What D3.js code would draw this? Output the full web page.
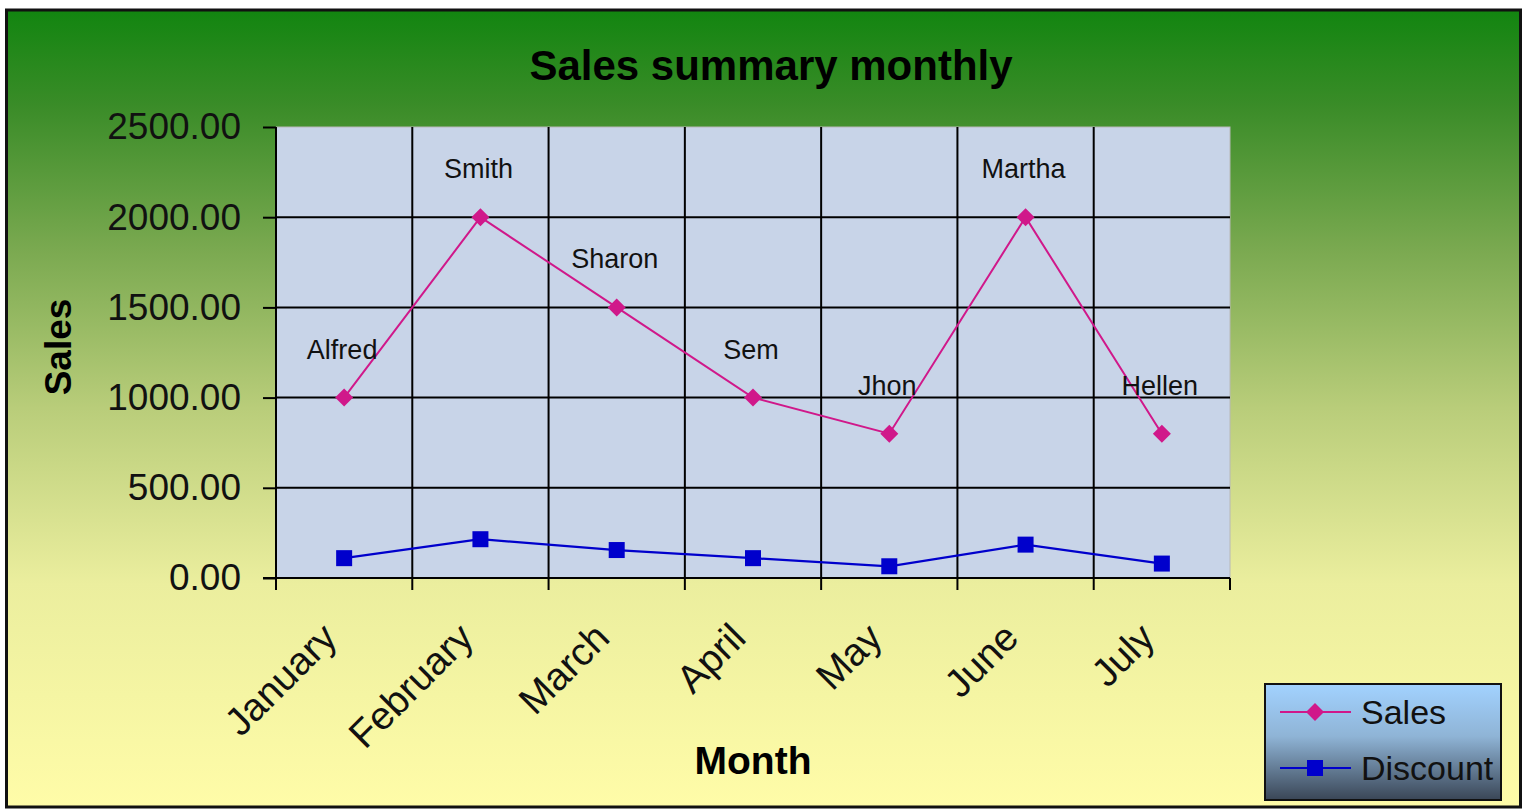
<!DOCTYPE html>
<html>
<head>
<meta charset="utf-8">
<script src="https://cdn.jsdelivr.net/npm/d3@7"></script>
<style>
  html, body { margin: 0; padding: 0; background: #ffffff; }
  svg { display: block; }
  text { font-family: Arial, "Liberation Sans", sans-serif; }
</style>
</head>
<body>
<svg id="chart" width="1526" height="810"></svg>
<script>
// Monthly sales summary data
const months = ["January", "February", "March", "April", "May", "June", "July"];
const salesValues = [1000, 2000, 1500, 1000, 800, 2000, 800];
const discountValues = [110, 215, 155, 110, 65, 185, 80];
const salesPeople = ["Alfred", "Smith", "Sharon", "Sem", "Jhon", "Martha", "Hellen"];
const yTicks = [0, 500, 1000, 1500, 2000, 2500];
const seriesNames = ["Sales", "Discount"];

const svg = d3.select("#chart");
const defs = svg.append("defs");

// Background gradient: green at top fading to pale yellow
const bg = defs.append("linearGradient").attr("id", "bgGrad")
  .attr("x1", 0).attr("y1", 0).attr("x2", 0).attr("y2", 1);
[[0, "#128510"], [0.12, "#3a8c28"], [0.3, "#7aa950"], [0.5, "#b9cd7a"],
 [0.72, "#ebee9e"], [1, "#fffca8"]].forEach(([o, c]) =>
  bg.append("stop").attr("offset", o).attr("stop-color", c));

// Legend gradient: light blue to dark slate
const lg = defs.append("linearGradient").attr("id", "legGrad")
  .attr("x1", 0).attr("y1", 0).attr("x2", 0).attr("y2", 1);
[[0, "#a2d2ff"], [0.45, "#8fb4d6"], [1, "#3a4656"]].forEach(([o, c]) =>
  lg.append("stop").attr("offset", o).attr("stop-color", c));

svg.append("rect")
  .attr("x", 6.5).attr("y", 10).attr("width", 1514).attr("height", 797)
  .attr("fill", "url(#bgGrad)").attr("stroke", "#111").attr("stroke-width", 3);

// Plot area
const plot = { left: 276, right: 1230, top: 127, bottom: 578 };

const x = d3.scaleBand().domain(months).range([plot.left, plot.right]).padding(0);
const y = d3.scaleLinear().domain([0, 2500]).range([plot.bottom, plot.top]);
const cx = m => x(m) + x.bandwidth() / 2;

svg.append("rect")
  .attr("x", plot.left).attr("y", plot.top)
  .attr("width", plot.right - plot.left).attr("height", plot.bottom - plot.top)
  .attr("fill", "#c8d4e8").attr("stroke", "#b8b8b8").attr("stroke-width", 1);

// Horizontal gridlines
svg.append("g").selectAll("line")
  .data(yTicks.filter(t => t > 0 && t < 2500))
  .join("line")
  .attr("x1", plot.left).attr("x2", plot.right)
  .attr("y1", d => y(d)).attr("y2", d => y(d))
  .attr("stroke", "#000").attr("stroke-width", 2);

// Vertical gridlines at category boundaries
svg.append("g").selectAll("line")
  .data(months.slice(1))
  .join("line")
  .attr("x1", d => x(d)).attr("x2", d => x(d))
  .attr("y1", plot.top).attr("y2", plot.bottom)
  .attr("stroke", "#000").attr("stroke-width", 2);

// Y axis
const yAxis = svg.append("g")
  .attr("transform", `translate(${plot.left},0)`)
  .call(d3.axisLeft(y).tickValues(yTicks).tickSize(13).tickPadding(22)
    .tickFormat(d3.format(".2f")));
yAxis.select(".domain").attr("stroke", "#000").attr("stroke-width", 2)
  .attr("d", `M0,${plot.top}V${plot.bottom + 12}`);
yAxis.selectAll(".tick line").attr("stroke", "#000").attr("stroke-width", 2);
yAxis.selectAll(".tick text")
  .attr("font-size", 37).attr("fill", "#111")
  .attr("font-family", "Arial, 'Liberation Sans', sans-serif");

// X axis with ticks at category boundaries
const boundaries = months.map(m => x(m)).concat([plot.right]);
const xAxisG = svg.append("g");
xAxisG.append("line")
  .attr("x1", plot.left - 13).attr("x2", plot.right)
  .attr("y1", plot.bottom).attr("y2", plot.bottom)
  .attr("stroke", "#000").attr("stroke-width", 2);
xAxisG.selectAll("line.tick")
  .data(boundaries)
  .join("line").attr("class", "tick")
  .attr("x1", d => d).attr("x2", d => d)
  .attr("y1", plot.bottom).attr("y2", plot.bottom + 12)
  .attr("stroke", "#000").attr("stroke-width", 2);
xAxisG.selectAll("text")
  .data(months)
  .join("text")
  .attr("transform", d => `translate(${cx(d) - 5},${plot.bottom + 62}) rotate(-45)`)
  .attr("text-anchor", "end")
  .attr("font-size", 39).attr("fill", "#111")
  .text(d => d);

// Series lines
const line = d3.line().x((d, i) => cx(months[i])).y(d => y(d));

svg.append("path").datum(discountValues)
  .attr("d", line).attr("fill", "none")
  .attr("stroke", "#0000cc").attr("stroke-width", 2.2);

svg.append("path").datum(salesValues)
  .attr("d", line).attr("fill", "none")
  .attr("stroke", "#d0188a").attr("stroke-width", 2);

// Markers
const diamondPath = "M0,-9L9,0L0,9L-9,0Z";
svg.append("g").selectAll("path")
  .data(salesValues)
  .join("path")
  .attr("d", diamondPath)
  .attr("transform", (d, i) => `translate(${cx(months[i])},${y(d)})`)
  .attr("fill", "#d0188a");

svg.append("g").selectAll("rect")
  .data(discountValues)
  .join("rect")
  .attr("x", (d, i) => cx(months[i]) - 8).attr("y", d => y(d) - 8)
  .attr("width", 16).attr("height", 16)
  .attr("fill", "#0000cc");

// Salesperson labels above sales points
svg.append("g").selectAll("text")
  .data(salesValues)
  .join("text")
  .attr("x", (d, i) => cx(months[i]) - 2)
  .attr("y", d => y(d) - 39)
  .attr("text-anchor", "middle")
  .attr("font-size", 27).attr("fill", "#111")
  .text((d, i) => salesPeople[i]);

// Titles
svg.append("text")
  .attr("x", 771).attr("y", 80)
  .attr("text-anchor", "middle")
  .attr("font-size", 42).attr("font-weight", "bold").attr("fill", "#000")
  .text("Sales summary monthly");

svg.append("text")
  .attr("x", 753).attr("y", 774)
  .attr("text-anchor", "middle")
  .attr("font-size", 39).attr("font-weight", "bold").attr("fill", "#000")
  .text("Month");

svg.append("text")
  .attr("transform", "translate(71,347) rotate(-90)")
  .attr("text-anchor", "middle")
  .attr("font-size", 37).attr("font-weight", "bold").attr("fill", "#000")
  .text("Sales");

// Legend
const legend = svg.append("g");
legend.append("rect")
  .attr("x", 1265).attr("y", 684).attr("width", 236).attr("height", 116)
  .attr("fill", "url(#legGrad)").attr("stroke", "#111").attr("stroke-width", 2);

const legendColors = ["#d0188a", "#0000cc"];
const legendY = d3.scalePoint().domain(seriesNames).range([712, 768]);
seriesNames.forEach((name, i) => {
  const ly = legendY(name);
  legend.append("line")
    .attr("x1", 1280).attr("x2", 1351).attr("y1", ly).attr("y2", ly)
    .attr("stroke", legendColors[i]).attr("stroke-width", i === 0 ? 2 : 2.2);
  if (i === 0) {
    legend.append("path").attr("d", diamondPath)
      .attr("transform", `translate(1315,${ly})`).attr("fill", legendColors[i]);
  } else {
    legend.append("rect").attr("x", 1307).attr("y", ly - 8)
      .attr("width", 16).attr("height", 16).attr("fill", legendColors[i]);
  }
  legend.append("text")
    .attr("x", 1361).attr("y", ly + 12)
    .attr("font-size", 34).attr("fill", "#111")
    .text(name);
});
</script>
</body>
</html>
